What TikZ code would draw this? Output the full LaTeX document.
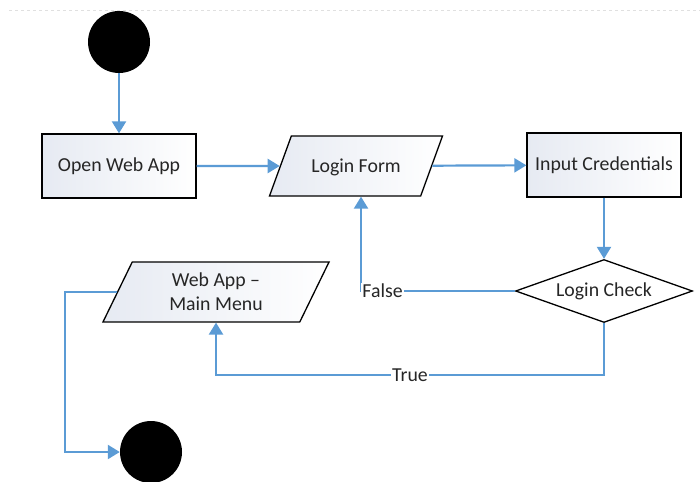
\documentclass[tikz,border=0pt]{standalone}
\usepackage{fontspec}
\setmainfont{Carlito}
\usepackage{xcolor}
\usepackage{tikz}
\usetikzlibrary{shapes.geometric,arrows.meta}
\definecolor{flowblue}{HTML}{5B9BD5}
\definecolor{boxtint}{HTML}{E6EAF2}
\definecolor{inktext}{HTML}{262626}
\tikzstyle{process} = [rectangle,draw=black,line width=1.3pt,left color=boxtint,right color=white,
	text=inktext,minimum width=154pt,minimum height=64pt,inner sep=0pt]
\tikzstyle{io} = [trapezium,trapezium stretches body,draw=black,line width=1.3pt,left color=boxtint,
	right color=white,text=inktext,inner xsep=0pt,align=center]
\tikzstyle{decision} = [diamond,aspect=2.8,draw=black,line width=1.3pt,fill=white,text=inktext,
	minimum width=177pt,minimum height=63pt,inner sep=0pt]
\tikzstyle{terminal} = [circle,fill=black,minimum size=62pt,inner sep=0pt]
\tikzstyle{flow} = [flowblue,line width=2.2pt,->]
\tikzstyle{branch} = [fill=white,text=inktext,inner sep=1pt]

\begin{document}
\begin{tikzpicture}[x=1pt,y=-1pt,>={Triangle[width=14pt,length=12pt]},
	font=\fontsize{19.8}{24}\selectfont]
   \useasboundingbox (0,0) rectangle (700,481);
   \draw[black!12,line width=0.8pt,dashed] (9,10) -- (700,10);

   % nodes
   \node[terminal] (start) at (119,42) {};
   \node[process] (open) at (119,166) {Open Web App};
   \node[io,trapezium left angle=70,trapezium right angle=110,minimum width=173pt,
	inner ysep=0pt,text height=36pt,text depth=24pt] (form) at (356,166) {Login Form};
   \node[process] (cred) at (604,165) {Input Credentials};
   \node[decision] (check) at (604,291) {Login Check};
   \node[io,trapezium left angle=64,trapezium right angle=116,minimum width=226pt,
	inner ysep=11pt] (menu) at (216,292) {Web App --\\Main Menu};
   \node[terminal] (stop) at (151,452) {};

   % connectors
   \draw[flow] (start) -- (open);
   \draw[flow] (open) -- (form);
   \draw[flow] (form) -- (cred);
   \draw[flow] (cred) -- (check);
   \draw[flow] (check.west) -| node[branch,pos=0.43] {False} ([xshift=5pt]form.south);
   \draw[flow] (check.south) -- ++(0,52) -| node[branch,pos=0.25] {True} (menu.south);
   \draw[flow] (menu.west) -- ++(-52,0) |- (stop.west);

   \end{tikzpicture}
\end{document}
